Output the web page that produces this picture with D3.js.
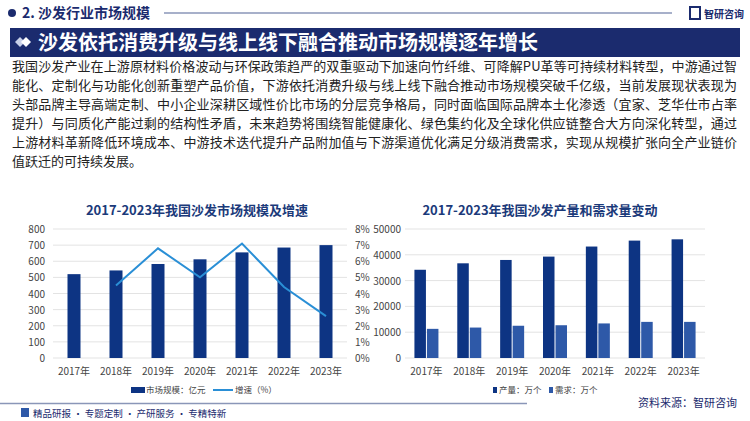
<!DOCTYPE html>
<html><head><meta charset="utf-8">
<script src="https://cdn.jsdelivr.net/npm/d3@7"></script>
<style>body{margin:0;background:#fff}svg{display:block;font-family:"Noto Sans CJK SC","Noto Sans",sans-serif}</style>
</head><body><svg id="c" width="750" height="421"></svg>
<script>
const years=["2017年","2018年","2019年","2020年","2021年","2022年","2023年"];
const marketSize=[520,543,583,612,655,685,700];
const growth=[null,4.5,6.8,5.0,7.1,4.4,2.6];
const production=[34200,36700,38000,39300,43200,45500,46000];
const demand=[11300,11800,12500,12700,13400,14000,14000];
const leftTicks=[0,100,200,300,400,500,600,700,800];
const rightTicks=[0,1,2,3,4,5,6,7,8];
const prodTicks=[0,10000,20000,30000,40000,50000];
const paragraph=[
"我国沙发产业在上游原材料价格波动与环保政策趋严的双重驱动下加速向竹纤维、可降解PU革等可持续材料转型，中游通过智",
"能化、定制化与功能化创新重塑产品价值，下游依托消费升级与线上线下融合推动市场规模突破千亿级，当前发展现状表现为",
"头部品牌主导高端定制、中小企业深耕区域性价比市场的分层竞争格局，同时面临国际品牌本土化渗透（宜家、芝华仕市占率",
"提升）与同质化产能过剩的结构性矛盾，未来趋势将围绕智能健康化、绿色集约化及全球化供应链整合大方向深化转型，通过",
"上游材料革新降低环境成本、中游技术迭代提升产品附加值与下游渠道优化满足分级消费需求，实现从规模扩张向全产业链价",
"值跃迁的可持续发展。"];

const svg=d3.select("#c");
const navy="#0d3483", navy2="#2e59a8", light="#2a8fd6";
// header
svg.append("circle").attr("cx",12).attr("cy",13).attr("r",4).attr("fill","#1b2b6e");
svg.append("text").attr("x",22).attr("y",18).attr("font-size",14).attr("font-weight","bold").attr("fill","#1b2b6e").text("2. 沙发行业市场规模");
svg.append("line").attr("x1",164).attr("x2",672).attr("y1",13).attr("y2",13).attr("stroke","#8a96b8").attr("stroke-width",1.5);
svg.append("rect").attr("x",690).attr("y",7).attr("width",10).attr("height",12).attr("fill","none").attr("stroke","#1b2b6e").attr("stroke-width",2);
svg.append("text").attr("x",704).attr("y",18).attr("font-size",10).attr("font-weight","bold").attr("fill","#1b2b6e").text("智研咨询");
svg.append("rect").attr("x",10).attr("y",28).attr("width",730).attr("height",29).attr("fill","#1b2b6e");
[[20,42],[26,42]].forEach(([x,y],i)=>svg.append("path").attr("d",`M${x},${y-5}L${x+5},${y}L${x},${y+5}L${x-5},${y}Z`).attr("fill",i?"#fff":"#c8d0e8"));
svg.append("text").attr("x",38).attr("y",50).attr("font-size",20).attr("font-weight","bold").attr("fill","#fff").text("沙发依托消费升级与线上线下融合推动市场规模逐年增长");
// paragraph
paragraph.forEach((l,i)=>{const t=svg.append("text").attr("x",12).attr("y",71+i*19).attr("font-size",13).attr("fill","#222").text(l);
 if(i<5)t.attr("textLength",725).attr("lengthAdjust","spacing");});

// left chart
const gridC="#e3e3e3";
svg.append("text").attr("x",197).attr("y",215).attr("text-anchor","middle").attr("font-size",13).attr("font-weight","bold").attr("fill","#1b3a7a").text("2017-2023年我国沙发市场规模及增速");
const xL=d3.scaleBand().domain(years).range([53,347]);
const yL=d3.scaleLinear().domain([0,800]).range([358,229]);
const yR=d3.scaleLinear().domain([0,8]).range([358,229]);
const gl=svg.append("g");
gl.selectAll("line.g").data(leftTicks).join("line").attr("x1",53).attr("x2",347).attr("y1",d=>yL(d)).attr("y2",d=>yL(d)).attr("stroke",gridC);
gl.selectAll("text.l").data(leftTicks).join("text").attr("x",45).attr("y",d=>yL(d)+4).attr("text-anchor","end").attr("font-size",10).attr("fill","#444").text(d=>d);
gl.selectAll("text.r").data(rightTicks).join("text").attr("x",355).attr("y",d=>yR(d)+4).attr("font-size",10).attr("fill","#444").text(d=>d+"%");
gl.selectAll("rect").data(marketSize).join("rect").attr("x",(d,i)=>xL(years[i])+xL.bandwidth()/2-6.5).attr("width",13).attr("y",d=>yL(d)).attr("height",d=>358-yL(d)).attr("fill",navy);
const line=d3.line().defined(d=>d[1]!=null).x(d=>xL(d[0])+xL.bandwidth()/2).y(d=>yR(d[1]));
gl.append("path").attr("d",line(years.map((y,i)=>[y,growth[i]]))).attr("fill","none").attr("stroke",light).attr("stroke-width",2);
gl.selectAll("text.x").data(years).join("text").attr("x",d=>xL(d)+xL.bandwidth()/2).attr("y",375).attr("text-anchor","middle").attr("font-size",10).attr("fill","#444").text(d=>d);
svg.append("rect").attr("x",131).attr("y",387).attr("width",14).attr("height",6).attr("fill",navy);
svg.append("text").attr("x",146).attr("y",393).attr("font-size",8.5).attr("fill","#444").text("市场规模：亿元");
svg.append("line").attr("x1",213).attr("x2",233).attr("y1",390).attr("y2",390).attr("stroke",light).attr("stroke-width",2);
svg.append("text").attr("x",235).attr("y",393).attr("font-size",8.5).attr("fill","#444").text("增速（%）");

// right chart
svg.append("text").attr("x",540).attr("y",215).attr("text-anchor","middle").attr("font-size",13).attr("font-weight","bold").attr("fill","#1b3a7a").text("2017-2023年我国沙发产量和需求量变动");
const xP=d3.scaleBand().domain(years).range([405,705]);
const yP=d3.scaleLinear().domain([0,50000]).range([358,229]);
const gr=svg.append("g");
gr.selectAll("line").data(prodTicks).join("line").attr("x1",405).attr("x2",705).attr("y1",d=>yP(d)).attr("y2",d=>yP(d)).attr("stroke",gridC);
gr.selectAll("text.l").data(prodTicks).join("text").attr("x",401).attr("y",d=>yP(d)+4).attr("text-anchor","end").attr("font-size",10).attr("fill","#444").text(d=>d);
gr.selectAll("rect.p").data(production).join("rect").attr("x",(d,i)=>xP(years[i])+xP.bandwidth()/2-12).attr("width",11.5).attr("y",d=>yP(d)).attr("height",d=>358-yP(d)).attr("fill",navy);
gr.selectAll("rect.d").data(demand).join("rect").attr("x",(d,i)=>xP(years[i])+xP.bandwidth()/2+0.5).attr("width",11.5).attr("y",d=>yP(d)).attr("height",d=>358-yP(d)).attr("fill",navy2);
gr.selectAll("text.x").data(years).join("text").attr("x",d=>xP(d)+xP.bandwidth()/2).attr("y",375).attr("text-anchor","middle").attr("font-size",10).attr("fill","#444").text(d=>d);
svg.append("rect").attr("x",493).attr("y",387).attr("width",4).attr("height",6).attr("fill",navy);
svg.append("text").attr("x",499).attr("y",393).attr("font-size",8.5).attr("fill","#444").text("产量：万个");
svg.append("rect").attr("x",549).attr("y",387).attr("width",4).attr("height",6).attr("fill",navy2);
svg.append("text").attr("x",555).attr("y",393).attr("font-size",8.5).attr("fill","#444").text("需求：万个");
svg.append("text").attr("x",737).attr("y",407).attr("text-anchor","end").attr("font-size",11).attr("fill","#1b2b6e").text("资料来源：智研咨询");

// footer
svg.append("line").attr("x1",0).attr("x2",527).attr("y1",403.5).attr("y2",403.5).attr("stroke","#8a96b8").attr("stroke-width",1.5);
svg.append("rect").attr("x",21).attr("y",408).attr("width",8).attr("height",9).attr("fill","#2e59a8");
svg.append("text").attr("x",33).attr("y",417).attr("font-size",9.5).attr("fill","#1b2b6e").text("精品研报 · 专题定制 · 产研服务 · 专精特新");
</script></body></html>
